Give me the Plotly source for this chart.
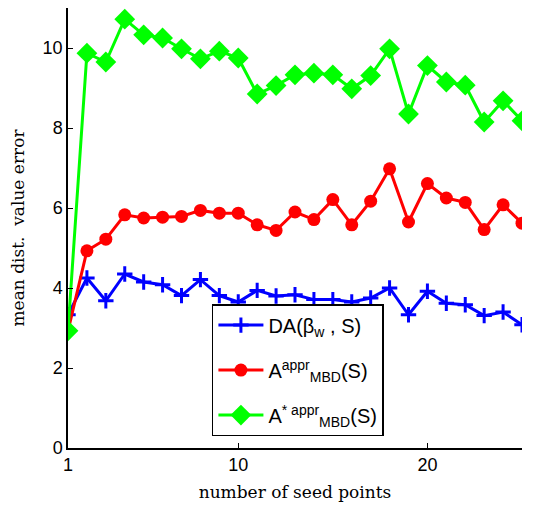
import plotly.graph_objects as go

seeds = list(range(1, 26))
da_beta = [3.33, 4.25, 3.68, 4.35, 4.15, 4.08, 3.81, 4.21, 3.81, 3.65, 3.94, 3.80,
           3.83, 3.71, 3.71, 3.65, 3.75, 4.00, 3.33, 3.92, 3.62, 3.58, 3.31, 3.40, 3.08]
mbd_appr = [2.93, 4.93, 5.22, 5.83, 5.75, 5.77, 5.79, 5.94, 5.87, 5.87, 5.58, 5.44,
            5.90, 5.71, 6.21, 5.58, 6.17, 6.98, 5.65, 6.61, 6.25, 6.14, 5.46, 6.08, 5.62]
mbd_star = [2.93, 9.87, 9.65, 10.72, 10.33, 10.25, 9.98, 9.73, 9.92, 9.75, 8.85, 9.06,
            9.33, 9.37, 9.33, 8.98, 9.31, 9.98, 8.35, 9.56, 9.15, 9.07, 8.15, 8.68, 8.18]

names = ["DA(β<sub>w</sub> , S)",
         "A<sup>appr</sup><sub>MBD</sub>(S)",
         "A<sup>* appr</sup><sub>MBD</sub>(S)"]

fig = go.Figure()
fig.add_trace(go.Scatter(x=seeds, y=da_beta, mode="lines+markers", name=names[0],
                         legendgroup="g1",
                         line=dict(color="#0000ff", width=3),
                         marker=dict(symbol="cross-thin", size=11,
                                     line=dict(color="#0000ff", width=3))))
fig.add_trace(go.Scatter(x=seeds, y=mbd_appr, mode="lines+markers", name=names[1],
                         legendgroup="g2",
                         line=dict(color="#ff0000", width=3),
                         marker=dict(symbol="circle", size=13, color="#ff0000")))
fig.add_trace(go.Scatter(x=seeds, y=mbd_star, mode="lines+markers", name=names[2],
                         legendgroup="g3",
                         line=dict(color="#00ff00", width=3),
                         marker=dict(symbol="diamond", size=16, color="#00ff00")))

fig.update_layout(
    width=533, height=506,
    margin=dict(l=68, r=11, t=8, b=58),
    paper_bgcolor="white", plot_bgcolor="white",
    font=dict(family="Liberation Sans, Arial", size=18, color="black"),
    showlegend=True,
    legend=dict(x=0.317, y=0.327, xanchor="left", yanchor="top",
                bordercolor="black", borderwidth=1.5, bgcolor="white",
                font=dict(size=20), itemwidth=45, tracegroupgap=16,
                traceorder="grouped"),
    xaxis=dict(range=[1, 25], tickvals=[1, 10, 20], showgrid=False, zeroline=False,
               showline=True, linecolor="black", linewidth=1.5,
               ticks="inside", ticklen=5, tickcolor="black",
               title=dict(text="number of seed points",
                          font=dict(family="DejaVu Serif, Liberation Serif", size=17),
                          standoff=12)),
    yaxis=dict(range=[0, 11], tickvals=[0, 2, 4, 6, 8, 10], showgrid=False, zeroline=False,
               showline=True, linecolor="black", linewidth=1.5,
               ticks="inside", ticklen=5, tickcolor="black",
               title=dict(text="mean dist.  value error",
                          font=dict(family="DejaVu Serif, Liberation Serif", size=17),
                          standoff=14)),
)

fig.write_html("out.html")
